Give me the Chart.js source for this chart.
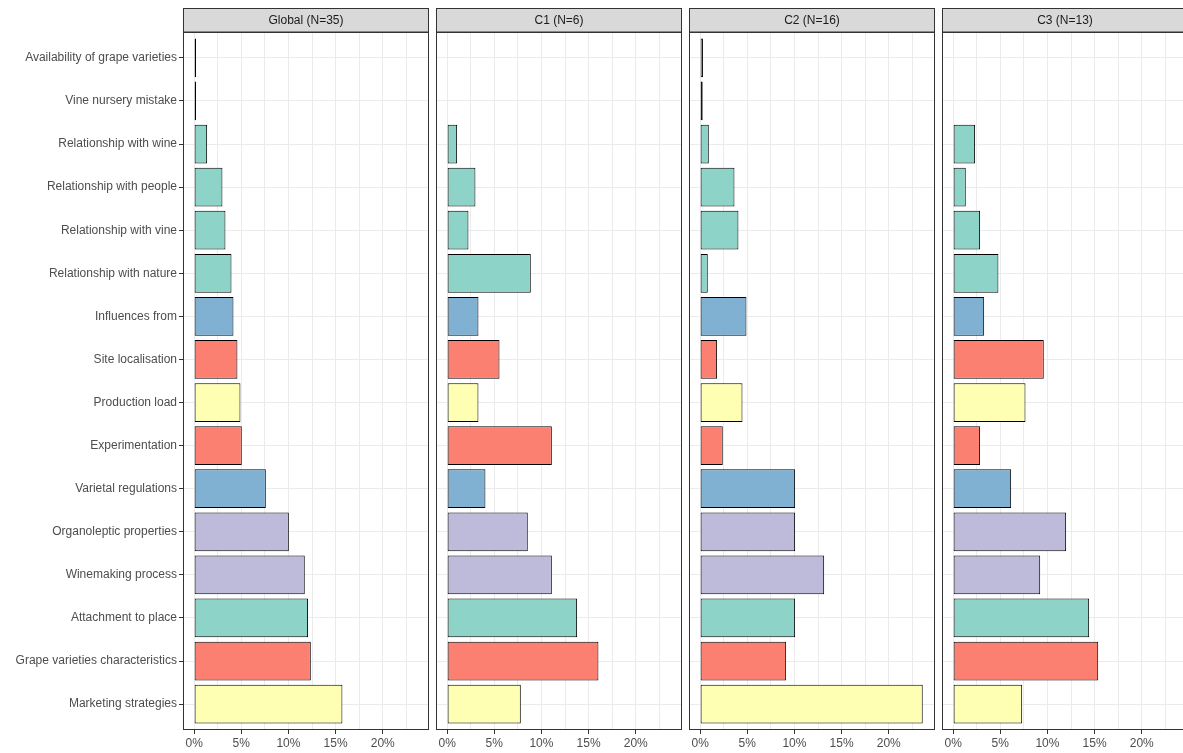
<!DOCTYPE html>
<html><head><meta charset="utf-8">
<script src="https://cdn.jsdelivr.net/npm/chart.js@4/dist/chart.umd.min.js"></script>
<style>
html,body{margin:0;padding:0;background:#fff;overflow:hidden;width:1183px;height:753px;position:relative}
canvas{position:absolute;top:0}
</style></head><body>
<canvas id="c0" width="433" height="753" style="left:0px"></canvas>
<canvas id="c1" width="254" height="753" style="left:432px"></canvas>
<canvas id="c2" width="254" height="753" style="left:685px"></canvas>
<canvas id="c3" width="254" height="753" style="left:938px"></canvas>
<script>
const categories = [
  "Availability of grape varieties", "Vine nursery mistake", "Relationship with wine",
  "Relationship with people", "Relationship with vine", "Relationship with nature",
  "Influences from", "Site localisation", "Production load", "Experimentation",
  "Varietal regulations", "Organoleptic properties", "Winemaking process",
  "Attachment to place", "Grape varieties characteristics", "Marketing strategies"
];
const categoryColors = [
  "#FFFFB3", "#80B1D3", "#8DD3C7", "#8DD3C7", "#8DD3C7", "#8DD3C7",
  "#80B1D3", "#FB8072", "#FFFFB3", "#FB8072", "#80B1D3", "#BEBADA",
  "#BEBADA", "#8DD3C7", "#FB8072", "#FFFFB3"
];
const panelTitles = ["Global (N=35)", "C1 (N=6)", "C2 (N=16)", "C3 (N=13)"];
const globalValues = [0.2, 0.2, 1.38, 3.0, 3.32, 3.96, 4.17, 4.59, 4.91, 5.05, 7.6, 10.04, 11.73, 12.08, 12.37, 15.72];
const c1Values = [null, null, 1.06, 3.0, 2.26, 8.87, 3.32, 5.55, 3.32, 11.1, 4.06, 8.55, 11.1, 13.78, 16.04, 7.81];
const c2Values = [0.3, 0.27, 0.92, 3.64, 4.06, 0.81, 4.91, 1.8, 4.49, 2.4, 10.07, 10.07, 13.15, 10.07, 9.12, 23.6];
const c3Values = [null, null, 2.33, 1.34, 2.86, 4.8, 3.29, 9.61, 7.67, 2.86, 6.15, 11.98, 9.23, 14.42, 15.38, 7.32];
const xTickValues = [0, 2.5, 5, 7.5, 10, 12.5, 15, 17.5, 20, 22.5];

const FONT = "'Liberation Sans', Arial, sans-serif";

const panelDeco = {
  id: 'panelDeco',
  afterDraw(chart, args, opts) {
    const {ctx, chartArea: a} = chart;
    ctx.save();
    ctx.fillStyle = '#D9D9D9';
    ctx.fillRect(a.left, 8, a.right - a.left, 24);
    ctx.strokeStyle = '#333333';
    ctx.lineWidth = 1;
    ctx.strokeRect(a.left + 0.5, 8.5, a.right - a.left - 1, 23.5);
    ctx.fillStyle = '#1A1A1A';
    ctx.font = '12px ' + FONT;
    ctx.textAlign = 'center';
    ctx.textBaseline = 'middle';
    ctx.fillText(opts.title, (a.left + a.right) / 2, 20.5);
    ctx.strokeStyle = '#333333';
    ctx.strokeRect(a.left + 0.5, a.top + 0.5, a.right - a.left - 1, a.bottom - a.top - 1);
    ctx.restore();
  }
};

function makePanel(canvasId, values, title, showY, padLeft, padRight) {
  new Chart(document.getElementById(canvasId), {
    type: 'bar',
    data: {
      datasets: [{
        data: values.map((v, i) => ({x: v, y: i})),
        backgroundColor: categoryColors,
        borderColor: '#000000',
        borderWidth: 1,
        borderSkipped: false,
        barPercentage: 0.9,
        categoryPercentage: 1.0
      }]
    },
    plugins: [panelDeco],
    options: {
      indexAxis: 'y',
      responsive: false,
      animation: false,
      layout: {padding: {top: 32, left: padLeft, right: padRight, bottom: 0}},
      plugins: {
        legend: {display: false},
        tooltip: {enabled: false},
        panelDeco: {title: title}
      },
      scales: {
        x: {
          type: 'linear',
          min: -1.18,
          max: 24.9,
          offset: false,
          afterBuildTicks: s => { s.ticks = xTickValues.map(v => ({value: v})); },
          afterFit: s => { s.height = 23; },
          border: {display: false},
          grid: {
            offset: false,
            color: '#EBEBEB',
            lineWidth: 1,
            drawTicks: true,
            tickLength: 4,
            tickColor: c => (c.tick && c.tick.value % 5 === 0) ? '#333333' : 'rgba(0,0,0,0)'
          },
          ticks: {
            autoSkip: false,
            maxRotation: 0,
            padding: 2,
            color: '#4D4D4D',
            font: {family: FONT, size: 12},
            callback: v => (v % 5 === 0) ? v + '%' : ''
          }
        },
        y: {
          type: 'linear',
          min: -0.6,
          max: 15.6,
          reverse: true,
          offset: false,
          afterBuildTicks: s => { s.ticks = categories.map((_, i) => ({value: i})); },
          afterFit: s => { s.width = showY ? 183 : 0; },
          border: {display: false},
          grid: {
            offset: false,
            color: '#EBEBEB',
            lineWidth: 1,
            drawTicks: showY,
            tickLength: 4,
            tickColor: '#333333'
          },
          ticks: {
            display: showY,
            autoSkip: false,
            padding: 2,
            color: '#4D4D4D',
            font: {family: FONT, size: 12},
            callback: v => categories[Math.round(v)]
          }
        }
      }
    }
  });
}

makePanel('c0', globalValues, panelTitles[0], true, 0, 4);
makePanel('c1', c1Values, panelTitles[1], false, 4, 4);
makePanel('c2', c2Values, panelTitles[2], false, 4, 4);
makePanel('c3', c3Values, panelTitles[3], false, 4, 4);
</script>
</body></html>
